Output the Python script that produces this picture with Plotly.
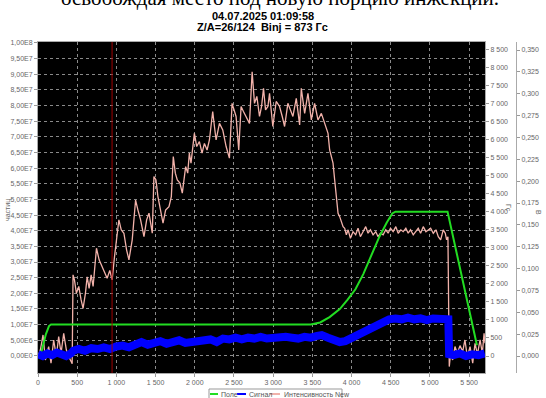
import plotly.graph_objects as go

# --- data ---
title_line1 = "04.07.2025 01:09:58"
title_line2 = "Z/A=26/124  Binj = 873 Гс"
series_names = ["Поле", "Сигнал", "Интенсивность New"]
series_colors = ["#22dd22", "#0000ff", "#f2b2aa"]

# Интенсивность New (частиц, millions)
pink_x = [0, 30, 64, 94, 136, 166, 200, 234, 264, 294, 328, 362, 392, 426, 436,
          447, 465, 490, 520, 550, 575, 605, 627, 652, 678, 703, 746, 780, 818, 848,
          882, 916, 946, 976, 1002, 1032, 1062, 1096, 1130, 1160, 1202, 1245, 1275, 1309, 1352,
          1386, 1416, 1458, 1479, 1505, 1530, 1565, 1595, 1628, 1671, 1701, 1726, 1752, 1777, 1811,
          1841, 1884, 1910, 1931, 1952, 1995, 2025, 2059, 2093, 2123, 2157, 2187, 2229, 2251, 2272,
          2315, 2357, 2400, 2442, 2476, 2506, 2527, 2561, 2591, 2621, 2656, 2698, 2732, 2762, 2792,
          2826, 2852, 2877, 2903, 2933, 2954, 2996, 3039, 3082, 3116, 3146, 3188, 3218, 3252, 3295,
          3338, 3359, 3402, 3444, 3487, 3529, 3572, 3615, 3657, 3700, 3721, 3747, 3764, 3785, 3807,
          3828, 3849, 3870, 3892, 3913, 3934, 3956, 3986, 4019, 4053, 4083, 4113, 4147, 4181, 4211,
          4241, 4275, 4309, 4339, 4369, 4403, 4437, 4467, 4497, 4531, 4565, 4595, 4629, 4659, 4693,
          4723, 4753, 4787, 4821, 4851, 4881, 4915, 4949, 4979, 5009, 5043, 5077, 5107, 5137, 5170,
          5196, 5213, 5230, 5247, 5264, 5290, 5320, 5349, 5384, 5418, 5447, 5477, 5512, 5546, 5576,
          5606, 5640, 5669, 5691, 5703]
pink_m = [-0.2, 1.9, 6.7, -1.3, 3.0, -2.3, 5.1, -0.2, 6.2, 0.85, 7.2, 1.9, -0.2, -1.8, -2.5,
          25.9, 24.3, 20.0, 22.2, 17.9, 15.2, 20.0, 25.3, 21.6, 25.9, 22.2, 34.4, 30.7, 28.5, 26.4,
          24.8, 27.3, 24.3, 31.7, 37.1, 43.5, 40.3, 39.2, 33.9, 30.7, 37.1, 49.8, 46.6, 43.5, 38.1,
          43.5, 45.6, 39.2, 57.3, 56.2, 50.9, 45.6, 42.4, 46.6, 47.7, 50.9, 63.7, 58.4, 56.2, 55.2,
          52.0, 60.5, 58.4, 64.8, 61.6, 71.1, 66.9, 68.5, 64.8, 67.9, 65.8, 69.0, 78.1, 73.3, 69.0,
          74.3, 72.2, 66.9, 63.2, 80.7, 78.6, 76.5, 65.8, 79.7, 78.1, 76.5, 74.3, 90.8, 80.7, 82.9,
          76.5, 79.7, 85.5, 78.6, 79.7, 83.9, 73.3, 81.3, 79.7, 76.5, 73.3, 80.7, 78.6, 76.5, 82.3,
          73.8, 85.5, 77.5, 83.9, 75.4, 80.7, 75.4, 77.5, 74.3, 71.1, 65.8, 63.7, 61.6, 56.2, 50.9,
          45.6, 44.5, 42.9, 41.3, 40.8, 38.7, 40.3, 37.6, 39.7, 38.7, 40.8, 38.1, 39.7, 41.3, 39.2,
          40.3, 38.7, 39.7, 38.1, 39.2, 38.7, 40.3, 39.2, 40.8, 39.7, 41.3, 39.2, 40.3, 39.7, 40.8,
          39.2, 40.3, 38.7, 39.7, 40.8, 39.2, 41.3, 39.7, 40.3, 40.8, 39.2, 40.3, 38.1, 37.1, 40.3,
          39.2, 37.1, 38.1, -3.4, 0.85, -1.3, 3.0, 0.85, 3.3, 1.4, 5.1, -0.2, 3.0, -2.3, 4.05,
          0.5, 5.1, 0.85, 7.2, 4.05]
pink_y = [v * 1e6 for v in pink_m]

# Поле (Гс)
field_x = [30, 60, 100, 140, 166, 3480, 3600, 3720, 3850, 3950, 4050, 4150, 4250, 4350, 4450,
           4520, 4560, 5225, 5600]
field_y = [0, 250, 600, 830, 873, 873, 930, 1080, 1300, 1560, 1850, 2270, 2780, 3280, 3700,
           3950, 4000, 4000, 300]

# Сигнал (В)
signal_x = [0, 60, 120, 180, 240, 300, 360, 420, 450, 520, 600, 680, 760, 840, 920,
            1000, 1080, 1160, 1240, 1320, 1400, 1480, 1560, 1640, 1720, 1800, 1880, 1960, 2040, 2120,
            2200, 2280, 2360, 2440, 2520, 2600, 2680, 2760, 2840, 2920, 3000, 3080, 3160, 3240, 3320,
            3400, 3480, 3560, 3620, 3700, 3780, 3850, 3920, 3990, 4060, 4130, 4200, 4270, 4340, 4410,
            4480, 4560, 4640, 4720, 4800, 4880, 4960, 5040, 5120, 5200, 5235, 5245, 5300, 5380, 5460,
            5540, 5620, 5700]
signal_y = [0.002, 0.000, 0.003, 0.001, 0.004, 0.002, 0.000, 0.003, 0.006, 0.008, 0.006, 0.009, 0.008, 0.010, 0.008,
            0.011, 0.012, 0.010, 0.014, 0.016, 0.013, 0.015, 0.017, 0.014, 0.016, 0.018, 0.015, 0.016, 0.018, 0.017,
            0.019, 0.016, 0.020, 0.019, 0.021, 0.019, 0.021, 0.020, 0.022, 0.020, 0.021, 0.020, 0.022, 0.021, 0.020,
            0.022, 0.021, 0.023, 0.024, 0.021, 0.018, 0.016, 0.017, 0.020, 0.024, 0.027, 0.031, 0.034, 0.037, 0.040,
            0.042, 0.043, 0.042, 0.044, 0.042, 0.043, 0.041, 0.043, 0.042, 0.041, 0.042, 0.002, 0.001, 0.003, 0.000,
            0.002, 0.001, 0.003]

marker_x = 945

# axis ticks
x_ticks = [0, 500, 1000, 1500, 2000, 2500, 3000, 3500, 4000, 4500, 5000, 5500]
x_labels = ["0", "500", "1 000", "1 500", "2 000", "2 500", "3 000", "3 500", "4 000", "4 500", "5 000", "5 500"]
left_ticks = [i * 5e6 for i in range(21)]
left_labels = ["0,00E0", "5,00E6", "1,00E7", "1,50E7", "2,00E7", "2,50E7", "3,00E7", "3,50E7", "4,00E7",
               "4,50E7", "5,00E7", "5,50E7", "6,00E7", "6,50E7", "7,00E7", "7,50E7", "8,00E7", "8,50E7",
               "9,00E7", "9,50E7", "1,00E8"]
gs_ticks = [i * 500 for i in range(18)]
gs_labels = ["0", "500", "1 000", "1 500", "2 000", "2 500", "3 000", "3 500", "4 000", "4 500",
             "5 000", "5 500", "6 000", "6 500", "7 000", "7 500", "8 000", "8 500"]
v_ticks = [i * 0.025 for i in range(15)]
v_labels = ["0,000", "0,025", "0,050", "0,075", "0,100", "0,125", "0,150", "0,175", "0,200",
            "0,225", "0,250", "0,275", "0,300", "0,325", "0,350"]

# pixel -> paper helpers (plot box 38..541 x 42..373)
def px(v):
    return (v - 38) / 503


def py(v):
    return (373 - v) / 331


fig = go.Figure()
fig.add_trace(go.Scatter(x=field_x, y=field_y, name=series_names[0], mode="lines", yaxis="y2",
                         line=dict(color=series_colors[0], width=2)))
fig.add_trace(go.Scatter(x=signal_x, y=signal_y, name=series_names[1], mode="lines", yaxis="y3",
                         line=dict(color=series_colors[1], width=8)))
fig.add_trace(go.Scatter(x=pink_x, y=pink_y, name=series_names[2], mode="lines",
                         line=dict(color=series_colors[2], width=1.3)))
fig.add_vline(x=marker_x, line=dict(color="#a00000", width=1))

tickfont = dict(family="Liberation Sans, Arial", size=7, color="#666666")
fig.update_layout(
    width=546, height=398,
    margin=dict(l=38, r=5, t=42, b=25, autoexpand=False),
    paper_bgcolor="white", plot_bgcolor="black",
    font=dict(family="Liberation Sans, Arial"),
    showlegend=False,
    xaxis=dict(domain=[0, 0.8887], range=[0, 5703], tickvals=x_ticks, ticktext=x_labels,
               tickfont=tickfont, ticks="outside", ticklen=3, tickcolor="#999",
               showgrid=True, gridcolor="#8a8a8a", griddash="dot", gridwidth=1,
               showline=True, linecolor="#aaaaaa", mirror=True, zeroline=False),
    yaxis=dict(range=[-5.45e6, 1.003e8], tickvals=left_ticks, ticktext=left_labels,
               tickfont=tickfont, ticks="outside", ticklen=3, tickcolor="#999",
               showgrid=True, gridcolor="#8a8a8a", griddash="dot", gridwidth=1,
               showline=True, linecolor="#aaaaaa", mirror=True, zeroline=False),
    yaxis2=dict(range=[-470, 8699], tickvals=gs_ticks, ticktext=gs_labels, overlaying="y",
                side="right", anchor="x", tickfont=tickfont, ticks="outside", ticklen=3,
                tickcolor="#999", showgrid=False, zeroline=False),
    yaxis3=dict(range=[-0.0194, 0.3592], tickvals=v_ticks, ticktext=v_labels, overlaying="y",
                side="right", anchor="free", position=px(516), tickfont=tickfont, ticks="outside",
                ticklen=3, tickcolor="#999", showline=True, linecolor="#aaaaaa",
                showgrid=False, zeroline=False),
)

annos = [
    dict(text="освобождая место под новую порцию инжекции.", x=px(280), y=py(-2),
         font=dict(family="Liberation Serif", size=21, color="black")),
    dict(text="<b>" + title_line1 + "</b>", x=px(263), y=py(16),
         font=dict(size=11, color="black")),
    dict(text="<b>" + title_line2 + "</b>", x=px(262), y=py(27),
         font=dict(size=11, color="black")),
    dict(text="частиц", x=px(8), y=py(210), textangle=-90,
         font=dict(size=7, color="#666")),
    dict(text="Гс", x=px(509), y=py(208), textangle=90,
         font=dict(size=7, color="#666")),
    dict(text="В", x=px(538), y=py(212), textangle=90,
         font=dict(size=7, color="#666")),
]
for a in annos:
    fig.add_annotation(xref="paper", yref="paper", showarrow=False,
                       xanchor="center", yanchor="middle", **a)

# legend drawn by hand, like the boxed legend of the reference
fig.add_shape(type="rect", xref="paper", yref="paper", x0=px(209), x1=px(342), y0=py(399), y1=py(389),
              line=dict(color="#999", width=1), fillcolor="white")
leg_line_x = [(210, 218), (237, 246), (270, 280)]
leg_text_x = [219, 247, 282]
for (a, b), tx, name, col in zip(leg_line_x, leg_text_x, series_names, series_colors):
    fig.add_shape(type="line", xref="paper", yref="paper", x0=px(a), x1=px(b), y0=py(394), y1=py(394),
                  line=dict(color=col, width=2))
    fig.add_annotation(xref="paper", yref="paper", showarrow=False, x=px(tx), y=py(394),
                       xanchor="left", yanchor="middle", text=name,
                       font=dict(size=7, color="#555"))

# the page's default body margin would push the 546x398 figure off the window
fig.write_html("out.html", config={"displayModeBar": False},
               post_script="document.body.style.margin = '0';")
